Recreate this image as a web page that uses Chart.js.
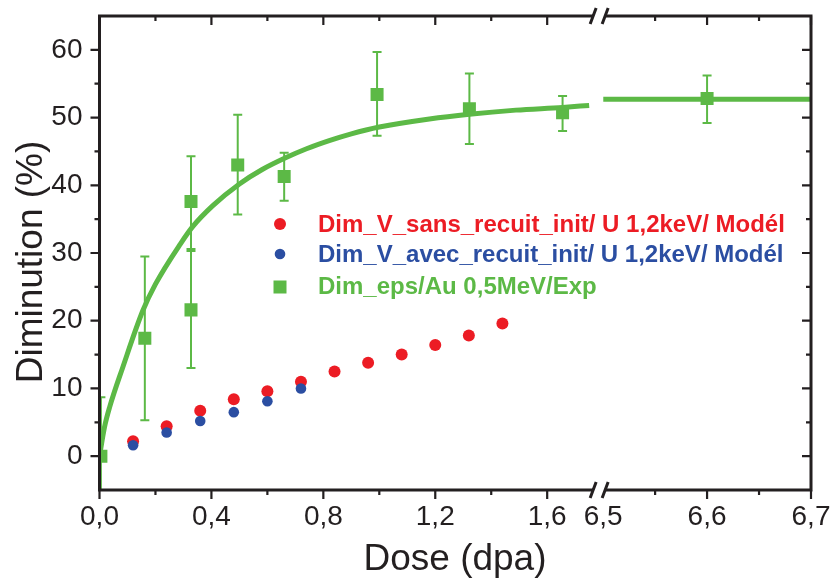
<!DOCTYPE html>
<html>
<head>
<meta charset="utf-8">
<script src="https://cdn.jsdelivr.net/npm/chart.js@4/dist/chart.umd.min.js"></script>
<style>
  html, body { margin: 0; padding: 0; background: #ffffff; }
  #wrap { width: 833px; height: 578px; }
</style>
</head>
<body>
<div id="wrap"><canvas id="c" width="833" height="578"></canvas></div>
<script>
// ---------- data ----------
const seriesLabels = [
  'Dim_V_sans_recuit_init/ U 1,2keV/ Modél',
  'Dim_V_avec_recuit_init/ U 1,2keV/ Modél',
  'Dim_eps/Au 0,5MeV/Exp'
];
const sansX = [0.12, 0.24, 0.36, 0.48, 0.60, 0.72, 0.84, 0.96, 1.08, 1.20, 1.32, 1.44];
const sansY = [2.2, 4.4, 6.7, 8.4, 9.6, 11.0, 12.5, 13.8, 15.0, 16.4, 17.8, 19.6];
const avecX = [0.12, 0.24, 0.36, 0.48, 0.60, 0.72];
const avecY = [1.6, 3.5, 5.2, 6.5, 8.1, 10.0];
const expX  = [0.005, 0.162, 0.327, 0.327, 0.494, 0.66, 0.992, 1.322, 1.655, 6.6];
const expY  = [0.0, 17.4, 21.6, 37.6, 43.0, 41.3, 53.4, 51.3, 50.7, 52.8];
const expLo = [-8.7, 5.3, 13.0, 30.6, 35.7, 37.7, 47.3, 46.1, 48.0, 49.2];
const expHi = [8.7, 29.5, 30.3, 44.3, 50.4, 44.8, 59.7, 56.5, 53.2, 56.2];
const fitX  = [0, 0.018, 0.036, 0.083, 0.155, 0.20, 0.29, 0.333, 0.405, 0.5, 0.58, 0.667, 0.74, 0.821, 0.90, 1.0, 1.179, 1.322, 1.488, 1.655, 1.75];
const fitY  = [0, 4.3, 7.2, 13.1, 21.5, 25.4, 31.4, 33.9, 37.0, 40.2, 42.3, 44.1, 45.4, 46.6, 47.6, 48.6, 49.8, 50.5, 51.1, 51.5, 51.8];
const fitRX = [6.5, 6.7];
const fitRY = [52.7, 52.7];
const xLeftRange  = [0, 1.8];
const xRightRange = [6.5, 6.7];
const yRange = [-5, 65];

// ---------- styling ----------
const RED = '#ec1c24', BLUE = '#2b4ea2', GREEN = '#5cb946', INK = '#231f20';
const FONT = "'Liberation Sans', Arial, Helvetica, sans-serif";
Chart.defaults.font.family = FONT;

const zip = (xs, ys) => xs.map((x, i) => ({ x: x, y: ys[i] }));
const expPts = expX.map((x, i) => ({ x: x, y: expY[i], lo: expLo[i], hi: expHi[i] }));
const expLeft  = expPts.filter(p => p.x <= xLeftRange[1]);
const expRight = expPts.filter(p => p.x >= xRightRange[0]);

const fmt = v => v.toFixed(1).replace('.', ',');
const noPad = s => { s.paddingTop = 0; s.paddingBottom = 0; s.paddingLeft = 0; s.paddingRight = 0; };

const decor = {
  id: 'decor',
  beforeDatasetsDraw(chart) {
    const ctx = chart.ctx, ca = chart.chartArea, y = chart.scales.y;
    ctx.save();
    ctx.beginPath();
    ctx.rect(ca.left, ca.top, ca.right - ca.left, ca.bottom - ca.top);
    ctx.clip();
    ctx.strokeStyle = GREEN;
    ctx.lineWidth = 2;
    const drawBars = (pts, sc) => {
      pts.forEach(p => {
        const px = sc.getPixelForValue(p.x);
        const pl = y.getPixelForValue(p.lo), ph = y.getPixelForValue(p.hi);
        ctx.beginPath();
        ctx.moveTo(px, pl); ctx.lineTo(px, ph);
        ctx.moveTo(px - 4.5, pl); ctx.lineTo(px + 4.5, pl);
        ctx.moveTo(px - 4.5, ph); ctx.lineTo(px + 4.5, ph);
        ctx.stroke();
      });
    };
    drawBars(expLeft, chart.scales.x1);
    drawBars(expRight, chart.scales.x2);
    ctx.restore();
  },
  afterDraw(chart) {
    const ctx = chart.ctx, ca = chart.chartArea;
    const x1 = chart.scales.x1, x2 = chart.scales.x2, y = chart.scales.y;
    ctx.save();
    ctx.strokeStyle = INK;
    ctx.lineCap = 'butt';
    // frame
    ctx.lineWidth = 3;
    ctx.beginPath();
    ctx.rect(ca.left, ca.top, ca.right - ca.left, ca.bottom - ca.top);
    ctx.stroke();
    // ticks
    ctx.lineWidth = 2.2;
    const MAJ = 9, MIN = 5;
    y.ticks.forEach(t => {
      const v = t.value;
      if (v <= yRange[0] || v >= yRange[1]) return;
      const L = (Math.round(v) % 10 === 0) ? MAJ : MIN;
      const py = y.getPixelForValue(v);
      ctx.beginPath();
      ctx.moveTo(ca.left - L, py); ctx.lineTo(ca.left, py);
      ctx.moveTo(ca.right, py); ctx.lineTo(ca.right - L, py);
      ctx.stroke();
    });
    const xt = (sc, isMajor, skip) => {
      sc.ticks.forEach(t => {
        const v = t.value;
        if (skip(v)) return;
        const L = isMajor(v) ? MAJ : MIN;
        const px = sc.getPixelForValue(v);
        ctx.beginPath();
        ctx.moveTo(px, ca.bottom); ctx.lineTo(px, ca.bottom + L);
        ctx.moveTo(px, ca.top); ctx.lineTo(px, ca.top + L);
        ctx.stroke();
      });
    };
    xt(x1, v => Math.round(v * 10) % 4 === 0, v => v > 1.75);
    xt(x2, v => Math.round(v * 100) % 10 === 0, v => v < 6.52);
    // axis breaks
    const bx = x2.left - 7;
    [ca.top, ca.bottom].forEach(ay => {
      ctx.fillStyle = '#ffffff';
      ctx.beginPath();
      ctx.moveTo(bx - 6, ay + 8); ctx.lineTo(bx + 0, ay - 8);
      ctx.lineTo(bx + 12, ay - 8); ctx.lineTo(bx + 6, ay + 8);
      ctx.closePath();
      ctx.fill();
      ctx.lineWidth = 3;
      ctx.beginPath();
      ctx.moveTo(bx - 6, ay + 8); ctx.lineTo(bx + 0, ay - 8);
      ctx.moveTo(bx + 6, ay + 8); ctx.lineTo(bx + 12, ay - 8);
      ctx.stroke();
    });
    // axis titles
    ctx.fillStyle = INK;
    ctx.font = '37px ' + FONT;
    ctx.textAlign = 'center';
    ctx.textBaseline = 'alphabetic';
    ctx.fillText('Dose (dpa)', 455, 570);
    ctx.save();
    ctx.translate(42, 262);
    ctx.rotate(-Math.PI / 2);
    ctx.fillText('Diminution (%)', 0, 0);
    ctx.restore();
    // legend
    const items = [
      { ds: chart.data.datasets[0], cy: 224, base: 232 },
      { ds: chart.data.datasets[1], cy: 254, base: 262 },
      { ds: chart.data.datasets[2], cy: 287, base: 294 }
    ];
    ctx.font = 'bold 24px ' + FONT;
    ctx.textAlign = 'left';
    items.forEach(it => {
      const col = it.ds.backgroundColor;
      ctx.fillStyle = col;
      if (it.ds.pointStyle === 'rect') {
        ctx.fillRect(280 - 6.5, it.cy - 6.5, 13, 13);
      } else {
        ctx.beginPath();
        ctx.arc(280, it.cy, it.ds.pointRadius, 0, Math.PI * 2);
        ctx.fill();
      }
      ctx.fillText(it.ds.label, 318, it.base);
    });
    ctx.restore();
  }
};

const tickFont = { size: 28 };
new Chart(document.getElementById('c'), {
  type: 'scatter',
  data: {
    datasets: [
      { label: seriesLabels[0], data: zip(sansX, sansY), xAxisID: 'x1', yAxisID: 'y',
        pointStyle: 'circle', pointRadius: 6, backgroundColor: RED, borderWidth: 0, order: 3 },
      { label: seriesLabels[1], data: zip(avecX, avecY), xAxisID: 'x1', yAxisID: 'y',
        pointStyle: 'circle', pointRadius: 5.3, backgroundColor: BLUE, borderWidth: 0, order: 2 },
      { label: seriesLabels[2], data: expLeft, xAxisID: 'x1', yAxisID: 'y',
        pointStyle: 'rect', pointRadius: 9.2, backgroundColor: GREEN, borderWidth: 0, order: 1 },
      { label: seriesLabels[2], data: expRight, xAxisID: 'x2', yAxisID: 'y',
        pointStyle: 'rect', pointRadius: 9.2, backgroundColor: GREEN, borderWidth: 0, order: 1 },
      { label: 'fit', data: zip(fitX, fitY), xAxisID: 'x1', yAxisID: 'y', showLine: true,
        pointRadius: 0, borderColor: GREEN, borderWidth: 5, cubicInterpolationMode: 'monotone', order: 0 },
      { label: 'fit', data: zip(fitRX, fitRY), xAxisID: 'x2', yAxisID: 'y', showLine: true,
        pointRadius: 0, borderColor: GREEN, borderWidth: 5, order: 0 }
    ]
  },
  options: {
    responsive: false,
    animation: false,
    devicePixelRatio: 1,
    layout: { padding: { left: 0, right: 22, top: 16, bottom: 0 } },
    plugins: { legend: { display: false }, tooltip: { enabled: false } },
    scales: {
      x1: {
        type: 'linear', position: 'bottom', stack: 'x', stackWeight: 504,
        min: xLeftRange[0], max: xLeftRange[1],
        grid: { display: false, drawTicks: false }, border: { display: false },
        ticks: { stepSize: 0.2, autoSkip: false, maxRotation: 0, padding: 10, font: tickFont, color: INK,
          callback: v => (Math.round(v * 10) % 4 === 0 && v < 1.75) ? fmt(v) : '' },
        afterFit: s => { s.height = 88; noPad(s); }
      },
      x2: {
        type: 'linear', position: 'bottom', stack: 'x', stackWeight: 208,
        min: xRightRange[0], max: xRightRange[1],
        grid: { display: false, drawTicks: false }, border: { display: false },
        ticks: { stepSize: 0.05, autoSkip: false, maxRotation: 0, padding: 10, font: tickFont, color: INK,
          callback: v => (Math.round(v * 100) % 10 === 0) ? fmt(v) : '' },
        afterFit: s => { s.height = 88; noPad(s); }
      },
      y: {
        type: 'linear', position: 'left', min: yRange[0], max: yRange[1],
        grid: { display: false, drawTicks: false }, border: { display: false },
        ticks: { stepSize: 5, autoSkip: false, padding: 17, font: tickFont, color: INK,
          callback: v => (Math.round(v) % 10 === 0) ? String(Math.round(v)) : '' },
        afterFit: s => { s.width = 99.5; noPad(s); }
      }
    }
  },
  plugins: [decor]
});
</script>
</body>
</html>
